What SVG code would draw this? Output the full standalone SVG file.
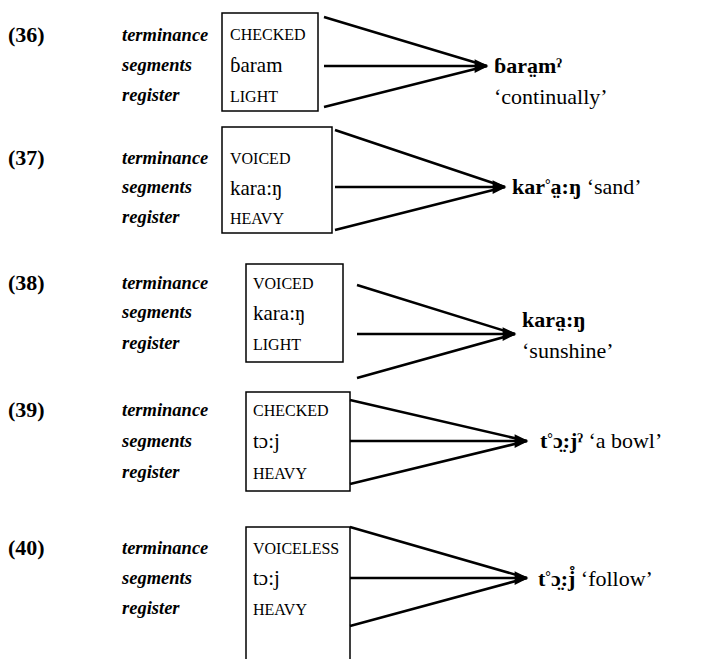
<svg xmlns="http://www.w3.org/2000/svg" width="708" height="659" viewBox="0 0 708 659">
<defs>
<style>
text{font-family:"Liberation Serif","Times New Roman",serif;fill:#000}
.num{font-size:22px;font-weight:bold}
.lab{font-size:18.5px;font-style:italic;font-weight:bold}
.sc{font-size:16px}
.seg{font-size:21px}
.out{font-size:22px;font-weight:bold}
.gl{font-size:22px;font-weight:normal}
.sup{font-size:14px}
.box{fill:none;stroke:#000;stroke-width:1.5}
.ln{stroke:#000;stroke-width:2.5;fill:none}
</style>
<marker id="ah" viewBox="0 0 10 10" refX="9" refY="5" markerWidth="6" markerHeight="5.5" orient="auto" markerUnits="strokeWidth">
<path d="M0,0 L10,5 L0,10 z" fill="#000"/>
</marker>
</defs>
<rect width="708" height="659" fill="#fff"/>

<g id="ex36">
<text class="num" x="8" y="42">(36)</text>
<text class="lab" x="122" y="41">terminance</text>
<text class="lab" x="122" y="71">segments</text>
<text class="lab" x="122" y="101">register</text>
<rect class="box" x="222" y="13" width="96" height="98"/>
<text class="sc" x="230" y="40">CHECKED</text>
<text class="seg" x="230" y="72">ɓaram</text>
<text class="sc" x="230" y="102">LIGHT</text>
<text class="out" x="494" y="73">ɓara̤mˀ</text>
<text class="gl" x="494" y="104">‘continually’</text>
</g>

<g id="ex37">
<text class="num" x="8" y="165">(37)</text>
<text class="lab" x="122" y="164">terminance</text>
<text class="lab" x="122" y="193">segments</text>
<text class="lab" x="122" y="223">register</text>
<rect class="box" x="222" y="127" width="110" height="106"/>
<text class="sc" x="230" y="164">VOICED</text>
<text class="seg" x="230" y="195">kara:ŋ</text>
<text class="sc" x="230" y="224">HEAVY</text>
<text class="out" x="512" y="194">kar<tspan class="sup" dy="-5">°</tspan><tspan dy="5">a̤:ŋ</tspan> <tspan class="gl">‘sand’</tspan></text>
</g>

<g id="ex38">
<text class="num" x="8" y="290">(38)</text>
<text class="lab" x="122" y="289">terminance</text>
<text class="lab" x="122" y="318">segments</text>
<text class="lab" x="122" y="349">register</text>
<rect class="box" x="246" y="264" width="97" height="98"/>
<text class="sc" x="253" y="289">VOICED</text>
<text class="seg" x="253" y="320">kara:ŋ</text>
<text class="sc" x="253" y="350">LIGHT</text>
<text class="out" x="522" y="327">kara̤:ŋ</text>
<text class="gl" x="522" y="358">‘sunshine’</text>
</g>

<g id="ex39">
<text class="num" x="8" y="417">(39)</text>
<text class="lab" x="122" y="416">terminance</text>
<text class="lab" x="122" y="447">segments</text>
<text class="lab" x="122" y="478">register</text>
<rect class="box" x="246" y="392" width="104" height="99"/>
<text class="sc" x="253" y="416">CHECKED</text>
<text class="seg" x="253" y="448">tɔ:j</text>
<text class="sc" x="253" y="479">HEAVY</text>
<text class="out" x="540" y="448">t<tspan class="sup" dy="-5">°</tspan><tspan dy="5">ɔ̤:jˀ</tspan> <tspan class="gl"> ‘a bowl’</tspan></text>
</g>

<g id="ex40">
<text class="num" x="8" y="555">(40)</text>
<text class="lab" x="122" y="554">terminance</text>
<text class="lab" x="122" y="584">segments</text>
<text class="lab" x="122" y="614">register</text>
<path class="box" d="M246,659 V527 H350 V659"/>
<text class="sc" x="253" y="554">VOICELESS</text>
<text class="seg" x="253" y="585">tɔ:j</text>
<text class="sc" x="253" y="615">HEAVY</text>
<text class="out" x="538" y="586">t<tspan class="sup" dy="-5">°</tspan><tspan dy="5">ɔ̤:j̊</tspan> <tspan class="gl">‘follow’</tspan></text>
</g>

<g id="connectors">
<path class="ln" d="M324,17 L487,66 M324,107 L487,66"/>
<path class="ln" d="M324,66 L487,66" marker-end="url(#ah)"/>
<path class="ln" d="M335,130 L505,187 M335,230 L505,187"/>
<path class="ln" d="M335,187 L505,187" marker-end="url(#ah)"/>
<path class="ln" d="M357,285 L515,334 M357,378 L515,334"/>
<path class="ln" d="M357,334 L515,334" marker-end="url(#ah)"/>
<path class="ln" d="M350,400 L527,441 M350,484 L527,441"/>
<path class="ln" d="M350,441 L527,441" marker-end="url(#ah)"/>
<path class="ln" d="M350,527 L527,578 M350,626 L527,578"/>
<path class="ln" d="M350,578 L527,578" marker-end="url(#ah)"/>
</g>
</svg>
